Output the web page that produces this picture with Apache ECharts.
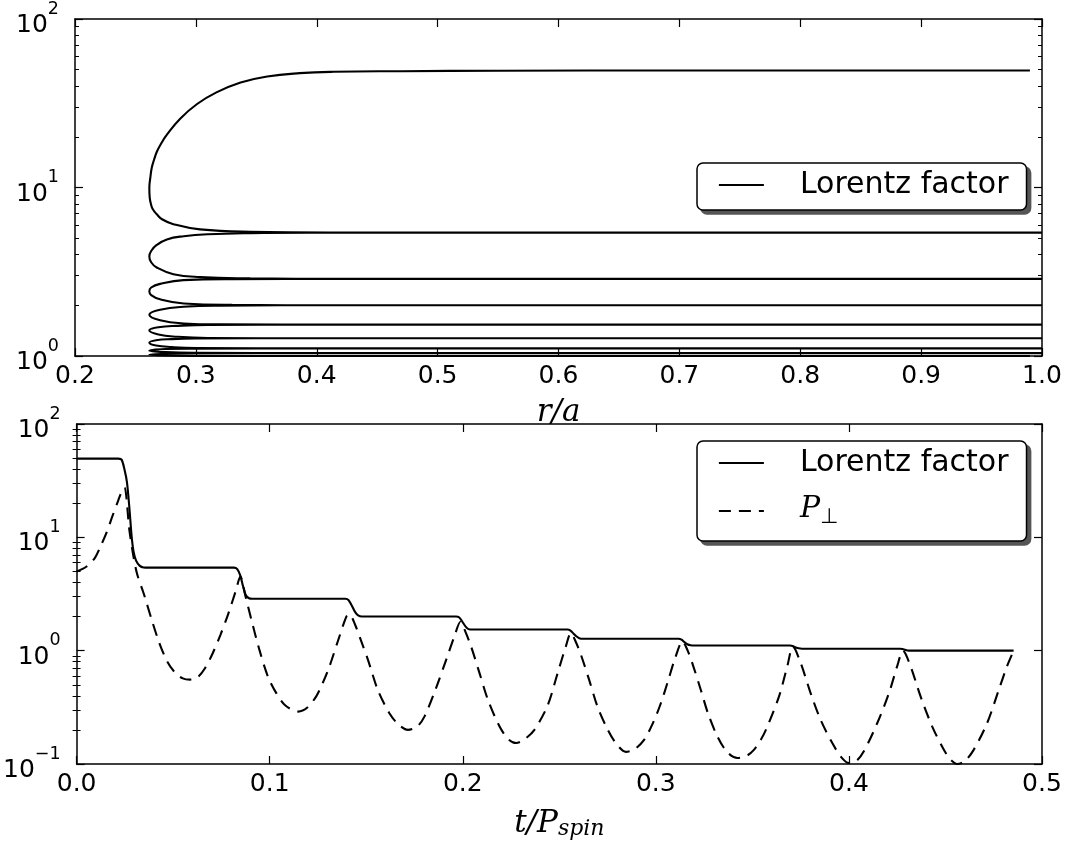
<!DOCTYPE html>
<html><head><meta charset="utf-8">
<script src="https://cdn.jsdelivr.net/npm/echarts@6/dist/echarts.min.js"></script>
<style>html,body{margin:0;padding:0;background:#fff}#c{width:1070px;height:845px}</style>
</head><body><div id="c"></div>
<script>
// ---------- Top panel: Lorentz factor vs r/a (trajectory, in order) ----------
const trajLoop1 = [[0.99,49.5],[0.7,49.5],[0.55,49.3],[0.47,49.0],[0.414,48.6],[0.386,47.7],[0.359,45.6],[0.337,42.0],[0.317,36.7],[0.301,31.3],[0.287,25.6],[0.2759,20.5],[0.2712,18.2],[0.2677,16.3],[0.2654,14.6],[0.2635,13.1],[0.2623,11.4],[0.2615,10.0],[0.2618,8.73],[0.2629,7.94],[0.2644,7.42],[0.2677,6.93],[0.272,6.48],[0.2814,6.06],[0.3035,5.64],[0.345,5.46],[0.42,5.41],[0.6,5.4],[1.0,5.4]];
const trajLoop2 = [[0.6,5.4],[0.40,5.39],[0.345,5.36],[0.31,5.28],[0.29,5.14],[0.276,4.92],[0.2676,4.56],[0.263,4.2],[0.2615,3.9],[0.263,3.6],[0.2676,3.35],[0.2814,3.06],[0.3035,2.94],[0.345,2.89],[0.42,2.87],[1.0,2.87]];
const trajLoop3 = [[0.42,2.87],[0.33,2.86],[0.2897,2.82],[0.2704,2.68],[0.263,2.55],[0.2615,2.42],[0.263,2.3],[0.2704,2.17],[0.29,2.05],[0.33,2.01],[0.42,2.0],[1.0,2.0]];
const trajLoop4 = [[0.42,2.0],[0.32,1.99],[0.29,1.96],[0.2704,1.88],[0.2615,1.76],[0.2704,1.63],[0.29,1.56],[0.32,1.54],[0.42,1.535],[1.0,1.535]];
const trajLoop5 = [[0.40,1.535],[0.31,1.53],[0.285,1.51],[0.269,1.48],[0.2615,1.42],[0.269,1.34],[0.285,1.30],[0.31,1.28],[0.40,1.275],[1.0,1.275]];
const trajLoop6 = [[0.40,1.275],[0.30,1.27],[0.28,1.26],[0.267,1.24],[0.2615,1.20],[0.267,1.155],[0.28,1.13],[0.30,1.115],[0.40,1.11],[1.0,1.11]];
const trajLoop7 = [[0.40,1.11],[0.30,1.105],[0.275,1.10],[0.2615,1.075],[0.275,1.055],[0.30,1.045],[0.40,1.04],[1.0,1.04]];
const trajLoop8 = [[0.40,1.04],[0.30,1.038],[0.275,1.032],[0.2615,1.02],[0.275,1.007],[0.30,1.002],[0.40,1.0],[0.99,1.0]];

// ---------- Bottom panel: vs t/P_spin ----------
const tLorentz = [0,0.0216,0.0233,0.0248,0.0261,0.0274,0.0285,0.0295,0.0308,0.0326,0.0347,0.037,
  0.0815,0.0832,0.0848,0.0862,0.0876,0.0893,0.091,
  0.1392,0.1408,0.1425,0.1442,0.1458,0.1478,
  0.1965,0.1982,0.1998,0.2014,0.203,0.2052,
  0.2543,0.2558,0.2573,0.2588,0.2603,0.2625,
  0.3118,0.3133,0.3148,0.3163,0.318,0.320,
  0.3695,0.3708,0.3721,0.3734,0.3748,0.3765,
  0.4265,0.4277,0.429,0.4303,0.4318,0.4853];
const gLorentz = [49.5,49.5,48.5,39.6,30.4,17.6,10.2,7.48,6.22,5.63,5.42,5.4,
  5.4,5.25,4.6,3.7,3.1,2.9,2.87,
  2.87,2.8,2.5,2.2,2.05,2.0,
  2.0,1.96,1.8,1.64,1.55,1.535,
  1.535,1.5,1.42,1.34,1.29,1.275,
  1.275,1.25,1.19,1.14,1.115,1.11,
  1.11,1.1,1.075,1.055,1.045,1.04,
  1.04,1.035,1.02,1.005,1.0,1.0];

const tPerp = [0,0.005,0.0095,0.0125,0.0155,0.0185,0.0215,0.0238,0.0248,
  0.0275,0.031,0.035,0.039,0.043,0.047,0.051,0.055,0.0586,
  0.0625,0.0665,0.0705,0.0745,0.0785,0.0825,0.0848,
  0.0875,0.0905,0.0948,0.0991,0.1035,0.108,0.1147,
  0.1195,0.1241,0.1275,0.131,0.1353,0.1397,0.1412,
  0.1445,0.1475,0.1509,0.156,0.162,0.1665,0.1716,
  0.1765,0.1802,0.1862,0.1914,0.1957,0.1988,
  0.2015,0.2043,0.2086,0.213,0.219,0.2235,0.2276,
  0.232,0.2371,0.244,0.2492,0.2534,0.256,
  0.2585,0.2612,0.2655,0.2698,0.2745,0.279,0.2845,
  0.289,0.294,0.2985,0.3025,0.306,0.3103,0.3138,
  0.3165,0.3195,0.3233,0.327,0.3319,0.337,0.3423,
  0.347,0.3509,0.3545,0.3578,0.3638,0.3681,0.371,
  0.375,0.3802,0.3853,0.3914,0.396,0.400,
  0.404,0.4078,0.4147,0.4207,0.425,0.428,
  0.4319,0.4371,0.4431,0.4491,0.4525,0.456,
  0.46,0.4647,0.4716,0.4776,0.4819,0.4853];
const pPerp = [5.0,5.5,6.6,8.4,11,15.3,21,26.5,27.5,
  11,5.0,3.1,1.85,1.15,0.80,0.64,0.57,0.555,
  0.58,0.70,0.95,1.38,2.1,3.4,4.5,
  3.0,1.88,1.0,0.59,0.42,0.33,0.29,
  0.315,0.395,0.52,0.73,1.21,2.0,2.1,
  1.65,1.2,0.83,0.45,0.28,0.225,0.2,
  0.215,0.263,0.47,0.83,1.34,1.8,
  1.45,1.09,0.64,0.37,0.215,0.166,0.153,
  0.165,0.20,0.33,0.64,1.09,1.43,
  1.2,0.92,0.55,0.32,0.21,0.155,0.128,
  0.135,0.164,0.23,0.34,0.52,0.89,1.21,
  1.0,0.72,0.45,0.28,0.175,0.127,0.113,
  0.118,0.134,0.165,0.215,0.395,0.73,1.09,
  0.78,0.42,0.246,0.153,0.115,0.102,
  0.107,0.13,0.23,0.42,0.73,1.0,
  0.73,0.395,0.215,0.134,0.11,0.1,
  0.106,0.134,0.23,0.45,0.73,1.0];

// ---------- Ticks ----------
const topXTicks = {min: 0.2, max: 1.0, step: 0.1};
const botXTicks = {min: 0.0, max: 0.5, step: 0.1};
const topYMajor = [1, 10, 100];
const topYMinor = [2,3,4,5,6,7,8,9,20,30,40,50,60,70,80,90];
const botYMajor = [0.1, 1, 10, 100];
const botYMinor = [0.2,0.3,0.4,0.5,0.6,0.7,0.8,0.9,2,3,4,5,6,7,8,9,20,30,40,50,60,70,80,90];

const seriesNames = {lorentz: 'Lorentz factor', perp: 'P⊥'};

// ---------- Build ----------
const trajectory = [].concat(trajLoop1, trajLoop2, trajLoop3, trajLoop4, trajLoop5, trajLoop6, trajLoop7, trajLoop8);
const lorentzBottom = tLorentz.map((t, i) => [t, gLorentz[i]]);
const perpBottom = tPerp.map((t, i) => [t, pPerp[i]]);

const BLACK = '#000';
const CLEAR = 'rgba(0,0,0,0)';
const sansFont = 'DejaVu Sans';
const serifFont = 'DejaVu Serif';

function xAxes(gridIndex, cfg, name, nameGap, rich) {
  const base = {
    type: 'value', gridIndex, min: cfg.min, max: cfg.max, interval: cfg.step,
    splitLine: {show: false},
    axisLine: {show: true, onZero: false, lineStyle: {color: BLACK, width: 1.5}},
    axisTick: {show: true, inside: true, length: 8, lineStyle: {color: BLACK, width: 1.2}},
  };
  return [
    Object.assign({}, base, {
      position: 'bottom',
      axisLabel: {show: true, margin: 8, fontSize: 25, fontFamily: sansFont, color: BLACK,
        formatter: v => v.toFixed(1), showMinLabel: true, showMaxLabel: true},
      name: name, nameLocation: 'middle', nameGap: nameGap,
      nameTextStyle: Object.assign({fontSize: 31, fontFamily: serifFont, fontStyle: 'italic', color: BLACK}, rich ? {rich} : {})
    }),
    Object.assign({}, base, {position: 'top', axisLabel: {show: false}})
  ];
}

function yLabelFmt(v) {
  const e = Math.round(Math.log10(v));
  return '{b|10}{s|' + (e < 0 ? '\u2212' + (-e) : e) + '}';
}

function yAxes(gridIndex, min, max, major, minor) {
  const base = {type: 'log', logBase: 10, gridIndex, min, max,
    splitLine: {show: false}, minorTick: {show: false}, minorSplitLine: {show: false}};
  const majTick = {show: true, inside: true, length: 8, customValues: major, lineStyle: {color: BLACK, width: 1.2}};
  const minTick = {show: true, inside: true, length: 4, customValues: minor, lineStyle: {color: BLACK, width: 1}};
  return [
    Object.assign({}, base, {position: 'left',
      axisLine: {show: true, onZero: false, lineStyle: {color: BLACK, width: 1.5}},
      axisTick: majTick,
      axisLabel: {show: true, customValues: major, margin: 16, formatter: yLabelFmt, color: BLACK,
        rich: {
          b: {fontSize: 25, fontFamily: sansFont, color: BLACK, lineHeight: 38, verticalAlign: 'bottom'},
          s: {fontSize: 17.5, fontFamily: sansFont, color: BLACK, lineHeight: 18, verticalAlign: 'top'}
        }}}),
    Object.assign({}, base, {position: 'left', axisLine: {show: false}, axisTick: minTick, axisLabel: {show: false}}),
    Object.assign({}, base, {position: 'right',
      axisLine: {show: true, onZero: false, lineStyle: {color: BLACK, width: 1.5}},
      axisTick: majTick, axisLabel: {show: false}}),
    Object.assign({}, base, {position: 'right', axisLine: {show: false}, axisTick: minTick, axisLabel: {show: false}})
  ];
}

function legendDef(left, top, padding, names, isShadow) {
  const txt = isShadow ? CLEAR : BLACK;
  return {
    orient: 'vertical', selectedMode: false, itemWidth: 45, itemHeight: 14, itemGap: 14,
    left, top, padding, data: names, z: isShadow ? 3 : 5,
    backgroundColor: isShadow ? '#555' : '#fff',
    borderColor: isShadow ? '#555' : BLACK, borderWidth: 1.5, borderRadius: 6,
    itemStyle: {opacity: 0},
    lineStyle: isShadow ? {opacity: 0} : {width: 1.8},
    textStyle: {fontSize: 30, fontFamily: sansFont, color: txt, lineHeight: 34, padding: [0, 0, 0, 31],
      rich: {
        p: {fontSize: 30, fontFamily: serifFont, fontStyle: 'italic', color: txt, lineHeight: 34, verticalAlign: 'top'},
        q: {fontSize: 21, fontFamily: sansFont, color: txt, lineHeight: 22, verticalAlign: 'bottom'}
      }},
    formatter: n => n === seriesNames.perp ? '{p|P}{q|\u22A5}' : n
  };
}

const lineStyleSolid = {color: BLACK, width: 2.1, type: 'solid'};
const lineStyleDash = {color: BLACK, width: 2.1, type: [12, 8]};

const option = {
  animation: false,
  backgroundColor: '#fff',
  grid: [
    {left: 75, right: 28, top: 15, height: 341},
    {left: 75, right: 28, top: 424, height: 340}
  ],
  xAxis: [].concat(
    xAxes(0, topXTicks, 'r/a', 41),
    xAxes(1, botXTicks, '{m|t/P}{s|spin}', 44, {
      m: {fontSize: 31, fontFamily: serifFont, fontStyle: 'italic', color: BLACK, lineHeight: 32, verticalAlign: 'top'},
      s: {fontSize: 22, fontFamily: serifFont, fontStyle: 'italic', color: BLACK, lineHeight: 22, verticalAlign: 'bottom'}
    })
  ),
  yAxis: [].concat(
    yAxes(0, 1, 100, topYMajor, topYMinor),
    yAxes(1, 0.1, 100, botYMajor, botYMinor)
  ),
  legend: [
    legendDef(701, 167, [5, 18, 8, 21], [seriesNames.lorentz], true),
    legendDef(697, 163, [5, 18, 8, 21], [seriesNames.lorentz], false),
    legendDef(701, 445, [5, 18, 13, 21], [seriesNames.lorentz, seriesNames.perp], true),
    legendDef(697, 441, [5, 18, 13, 21], [seriesNames.lorentz, seriesNames.perp], false)
  ],
  series: [
    {name: seriesNames.lorentz, type: 'line', xAxisIndex: 0, yAxisIndex: 0, data: trajectory,
      symbol: 'none', smooth: 0.45, lineStyle: lineStyleSolid, itemStyle: {color: BLACK}},
    {name: seriesNames.lorentz, type: 'line', xAxisIndex: 2, yAxisIndex: 4, data: lorentzBottom,
      symbol: 'none', smooth: 0.3, lineStyle: lineStyleSolid, itemStyle: {color: BLACK}},
    {name: seriesNames.perp, type: 'line', xAxisIndex: 2, yAxisIndex: 4, data: perpBottom,
      symbol: 'none', smooth: 0.3, lineStyle: lineStyleDash, itemStyle: {color: BLACK}}
  ]
};

const chart = echarts.init(document.getElementById('c'), null, {renderer: 'canvas'});
chart.setOption(option);
</script>
</body></html>
